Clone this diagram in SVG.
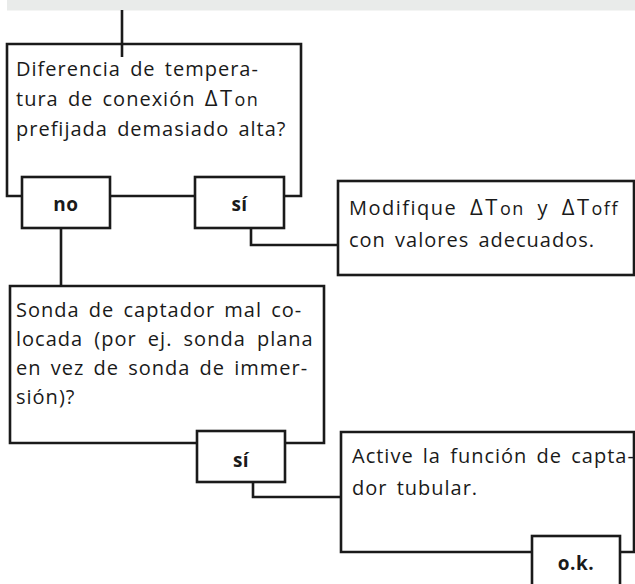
<svg xmlns="http://www.w3.org/2000/svg" width="635" height="584" viewBox="0 0 635 584">
<style>
.ln{fill:none;stroke:#1a1a1a;stroke-width:2.6;stroke-linecap:butt;stroke-linejoin:miter}
.bx{fill:#fff;stroke:#1a1a1a;stroke-width:2.6}
.t{font-family:"Open Sans",Lato,"Liberation Sans",sans-serif;font-size:20px;letter-spacing:1px;word-spacing:3px;fill:#1a1a1a}
.s{font-size:18px;letter-spacing:1.5px}
.d{font-size:22px;letter-spacing:2.5px}
.b{font-family:"Open Sans",Lato,"Liberation Sans",sans-serif;font-size:19px;font-weight:bold;fill:#1a1a1a;text-anchor:middle;letter-spacing:0.5px}
</style>
<rect x="7" y="0" width="628" height="10.5" fill="#e9ebea"/>
<g id="connectors">
<path class="ln" d="M122 10 V57"/>
<path class="ln" d="M61 228 V286"/>
<path class="ln" d="M251 228 V245 H338"/>
<path class="ln" d="M253 482 V497 H341"/>
</g>
<g id="q1">
<path class="ln" d="M22 196 H7 V44 H301 V196 H284 M110 196 H195"/>
<text class="t" x="16" y="76">Diferencia de tempera-</text>
<text class="t" x="16" y="106">tura de conexión <tspan class="d">ΔT</tspan><tspan class="s">on</tspan></text>
<text class="t" x="16" y="136">prefijada demasiado alta?</text>
</g>
<g id="no1">
<rect class="bx" x="22" y="177" width="88" height="51"/>
<text class="b" x="66" y="211">no</text>
</g>
<g id="si1">
<rect class="bx" x="195" y="177" width="89" height="51"/>
<text class="b" x="239.5" y="211">sí</text>
</g>
<g id="a1">
<rect class="bx" x="338" y="181" width="296" height="94"/>
<text class="t" x="349" y="215" style="letter-spacing:1.5px;word-spacing:6px">Modifique <tspan class="d">ΔT</tspan><tspan class="s">on</tspan> y <tspan class="d">ΔT</tspan><tspan class="s">off</tspan></text>
<text class="t" x="349" y="247">con valores adecuados.</text>
</g>
<g id="q2">
<path class="ln" d="M197 443 H10 V286 H324 V443 H285"/>
<text class="t" x="16" y="317">Sonda de captador mal co-</text>
<text class="t" x="16" y="346" style="word-spacing:5px">locada (por ej. sonda plana</text>
<text class="t" x="16" y="375">en vez de sonda de immer-</text>
<text class="t" x="16" y="404">sión)?</text>
</g>
<g id="si2">
<rect class="bx" x="197" y="431" width="88" height="51"/>
<text class="b" x="241" y="467">sí</text>
</g>
<g id="a2">
<path class="ln" d="M532 552 H341 V432 H634 V552 H620"/>
<text class="t" x="352" y="463">Active la función de capta-</text>
<text class="t" x="352" y="495">dor tubular.</text>
</g>
<g id="ok">
<rect class="bx" x="532" y="536" width="88" height="52"/>
<text class="b" x="576" y="570">o.k.</text>
</g>
</svg>
